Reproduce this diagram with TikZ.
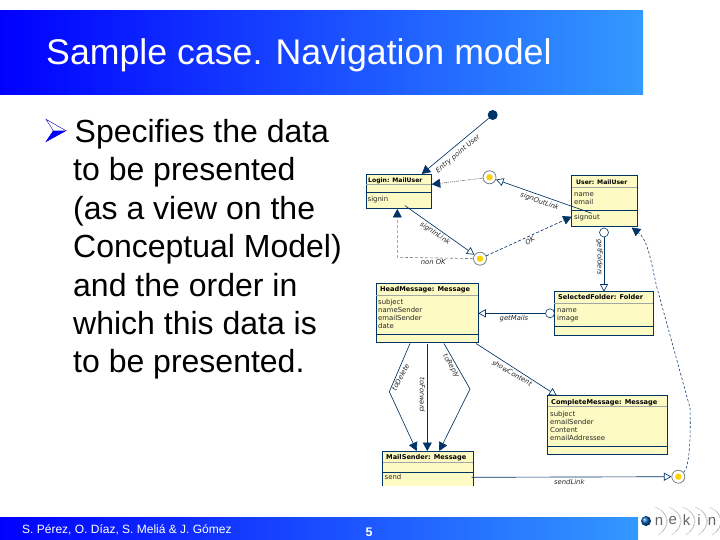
\documentclass[tikz,border=0pt]{standalone}
\usepackage{fontspec}
\setmainfont{Liberation Sans}
\newfontfamily\umlfont{DejaVu Sans}
\usetikzlibrary{arrows.meta,fit,calc}
\definecolor{navy}{RGB}{0,51,102}
\definecolor{boxfill}{RGB}{253,250,195}
\definecolor{bluea}{RGB}{0,0,255}
\definecolor{blueb}{RGB}{51,153,255}
\definecolor{grayline}{RGB}{120,130,130}
\tikzset{
  x=1pt,y=-1pt,
  boxs/.style={draw=navy,line width=0.9pt,fill=boxfill,inner sep=0pt,outer sep=0pt},
  sepa/.style={draw=grayline!70,line width=0.5pt},
  sepb/.style={draw=navy,line width=0.9pt},
  boxtitle/.style={font=\umlfont\bfseries\fontsize{6.6}{7}\selectfont,anchor=base west,inner sep=0pt,text=black},
  boxtitlesm/.style={font=\umlfont\bfseries\fontsize{6.1}{7}\selectfont,anchor=base west,inner sep=0pt,text=black},
  attr/.style={font=\umlfont\fontsize{6.9}{7}\selectfont,anchor=base west,inner sep=0pt,text=black!85},
  lab/.style={font=\umlfont\itshape\fontsize{6.8}{7}\selectfont,inner sep=0pt,text=black!85},
  conn/.style={draw=navy,line width=0.65pt},
  filltip/.style={-{Triangle[width=9pt,length=8.5pt,fill=navy,color=navy]}},
  opentip/.style={-{Triangle[open,width=8pt,length=7.5pt,fill=white]}},
  dash1/.style={dash pattern=on 3pt off 2pt},
  dashg/.style={draw=grayline,line width=0.6pt,dash pattern=on 3pt off 2pt},
  dashdot/.style={draw=grayline,line width=0.6pt,dash pattern=on 3pt off 1pt on 1pt off 1pt},
  ringc/.style={circle,draw=navy,line width=0.6pt,fill=white,minimum size=9pt,inner sep=0pt},
  deci/.style={circle,draw=grayline,line width=0.8pt,fill=white,minimum size=13pt,inner sep=0pt,path picture={\fill[yellow!70!orange] (path picture bounding box.center) circle (3.2pt);}},
  slidetext/.style={font=\fontsize{32}{34}\selectfont,anchor=base west,inner sep=0pt,text=black},
  lg/.style={font=\fontsize{15}{15}\selectfont,text=black!60,inner sep=0pt,anchor=center},
  wave/.style={draw=gray!55,line width=0.4pt}
}
\newcommand{\umlbox}[7]{%
  \coordinate (#1-nw) at (#2,#3);
  \coordinate (#1-se) at (#4,#5);
  \node[boxs,fit=(#1-nw)(#1-se)] (#1) {};
  \draw[sepa] (#2,#6) -- (#4,#6);
  \draw[sepb] (#2,#7) -- (#4,#7);
}
\begin{document}
\begin{tikzpicture}
\useasboundingbox (0,0) rectangle (720,540);
\fill[white] (0,0) rectangle (720,540);
% bars
\shade[left color=bluea,right color=blueb] (0,11) rectangle (643,95);
\shade[left color=bluea,right color=blueb] (0,517) rectangle (638,540);
\node[font=\fontsize{35.7}{37}\selectfont,text=white,anchor=base west,inner sep=0pt] (title) at (46,65) {Sample case. Navigation model};
% bullet
\fill[white] (46,119.3) -- (66,130.7) -- (53.3,130.7) -- cycle;
\draw[bluea!70!black,line width=0.4pt] (46,119.3) -- (66,130.7) -- (46,141.7) -- (53.3,130.7) -- cycle;
\fill[bluea] (66,130.7) -- (46,141.7) -- (53.3,130.7) -- cycle;
% body text
\node[slidetext] (t1) at (74.5,142.5) {Specifies the data};
\node[slidetext] (t2) at (73,180.9) {to be presented};
\node[slidetext] (t3) at (73,219.3) {(as a view on the};
\node[slidetext] (t4) at (73,257.7) {Conceptual Model)};
\node[slidetext] (t5) at (73,296.1) {and the order in};
\node[slidetext] (t6) at (73,334.5) {which this data is};
\node[slidetext] (t7) at (73,372.9) {to be presented.};
% footer
\node[font=\fontsize{12}{14}\selectfont,text=white,anchor=base west,inner sep=0pt] (authors) at (22,533.5) {S. Pérez, O. Díaz, S. Meliá \& J. Gómez};
\node[font=\bfseries\fontsize{12.5}{14}\selectfont,text=white,anchor=base,inner sep=0pt] (pnum) at (369,536) {5};
% logo
\foreach \xx in {659,672.7,686.7,699,713}{
  \draw[wave] (\xx+3,511) .. controls (\xx+9,517) and (\xx+9,526) .. (\xx+3,532);
  \draw[wave] (\xx-4,507) .. controls (\xx+12,514) and (\xx+12,526) .. (\xx-1,535);
}
\shade[ball color=blue!50!cyan!70!black] (646,521) circle (5pt);
\node[lg] (l1) at (659,521) {n};
\node[lg] (l2) at (672.7,521) {e};
\node[lg] (l3) at (686.7,520) {k};
\node[lg] (l4) at (699,520) {i};
\node[lg] (l5) at (712,521) {n};
% boxes
\umlbox{login}{366}{174.5}{431}{208.3}{184.5}{192.7}
\umlbox{user}{571.7}{175.7}{637.3}{226.7}{187.3}{210.7}
\umlbox{head}{376}{283.7}{478.3}{342.7}{295}{334.3}
\umlbox{folder}{554.3}{291.7}{653.3}{335}{303.3}{326}
\umlbox{complete}{547.7}{395.7}{667.3}{454.3}{406.7}{446.3}
% open-bottom box
\coordinate (sender-nw) at (382.7,451.3);
\coordinate (sender-se) at (473.3,485.7);
\node[fit=(sender-nw)(sender-se),fill=boxfill,inner sep=0pt,outer sep=0pt] (sender) {};
\draw[sepb] (sender.south west) -- (sender.north west) -- (sender.north east) -- (sender.south east);
\draw[sepa] (382.7,462.7) -- (473.3,462.7);
\draw[sepb] (382.7,472.7) -- (473.3,472.7);
% box texts
\node[boxtitlesm] (tlogin) at (368,182.3) {Login: MailUser};
\node[attr] (alogin) at (367.5,201.5) {signin};
\node[boxtitlesm] (tuser) at (576,184.3) {User: MailUser};
\node[attr] (a1user) at (574,196.8) {name};
\node[attr] (a2user) at (574,204.8) {email};
\node[attr] (a3user) at (574,219.5) {signout};
\node[boxtitle] (thead) at (380,291.8) {HeadMessage: Message};
\node[attr] (h1) at (378,304.3) {subject};
\node[attr] (h2) at (378,312.3) {nameSender};
\node[attr] (h3) at (378,320.3) {emailSender};
\node[attr] (h4) at (378,328.3) {date};
\node[boxtitle] (tfolder) at (558,299.6) {SelectedFolder: Folder};
\node[attr] (f1) at (557,312.5) {name};
\node[attr] (f2) at (557,320.5) {image};
\node[boxtitle] (tcomplete) at (551,404) {CompleteMessage: Message};
\node[attr] (c1) at (550,416) {subject};
\node[attr] (c2) at (550,424) {emailSender};
\node[attr] (c3) at (550,432) {Content};
\node[attr] (c4) at (550,440.3) {emailAddressee};
\node[boxtitle] (tsender) at (386,459.5) {MailSender: Message};
\node[attr] (s1) at (384.5,479.5) {send};
% circles
\node[circle,fill=navy,minimum size=10pt,inner sep=0pt] (entry) at (492.7,115) {};
\node[deci] (d1) at (489.5,177.3) {};
\node[deci] (d2) at (480,258.7) {};
\node[deci] (d3) at (678.3,476.7) {};
\node[ringc] (ru) at (604,232.5) {};
\node[ringc] (rf) at (550,313.3) {};
% anchors for connector ends
\coordinate (loginTop) at (421.7,174);
\coordinate (loginE) at (431.7,184.3);
\coordinate (loginS) at (397.3,209);
\coordinate (signoutP) at (591.7,213.3);
\coordinate (signinP) at (405,205.7);
\coordinate (userW) at (571.7,216.7);
\coordinate (userS) at (631.7,227.5);
\coordinate (d2c) at (397.3,257.3);
\coordinate (hd1) at (410,343.5);
\coordinate (hd2) at (427.3,343.5);
\coordinate (hd3) at (444,343.5);
\coordinate (hd4) at (476,343.5);
\coordinate (sd1) at (416.7,451);
\coordinate (sd2) at (427.3,451);
\coordinate (sd3) at (439.3,451);
\coordinate (cmp) at (556.7,395.5);
\coordinate (sendP) at (471.7,477.3);
\coordinate (b1) at (389.3,391.7);
\coordinate (b3) at (470,389);
% connectors
\draw[conn,filltip] (entry) -- (loginTop);
\draw[dashdot,filltip] (d1) -- (loginE);
\draw[conn,opentip] (signoutP) -- (d1);
\draw[conn,opentip] (signinP) -- (d2);
\draw[dashg,filltip] (d2) -- (d2c) -- (loginS);
\draw[conn,dash1,filltip] (d2) -- (userW);
\draw[conn,opentip] (ru) -- (folder.north -| ru);
\draw[conn,opentip] (rf) -- (head.east |- rf);
\draw[conn,filltip] (hd1) -- (b1) -- (sd1);
\draw[conn,filltip] (hd2) -- (sd2);
\draw[conn,filltip] (hd3) -- (b3) -- (sd3);
\draw[conn,opentip] (hd4) -- (cmp);
\draw[conn,opentip] (sendP) -- (d3);
\draw[conn,line width=0.55pt,dash pattern=on 2.5pt off 2pt,filltip] (d3) .. controls (689,468) and (691,440) .. (690,408) -- (656.7,286.7) .. controls (651,262) and (648,240) .. (userS);
% labels
\node[lab,rotate=40] (l-entry) at (458,154) {Entry point User};
\node[lab,rotate=-20] (l-so) at (539.5,201.5) {signOutLink};
\node[lab,rotate=-34] (l-si) at (435,233.5) {signInLink};
\node[lab] (l-no) at (433.3,261.7) {non OK};
\node[lab,rotate=33] (l-ok) at (530,241) {OK};
\node[lab,rotate=-90] (l-gf) at (599.5,257.5) {getFolders};
\node[lab] (l-gm) at (514,318.3) {getMails};
\node[lab,rotate=62] (l-del) at (400.5,377) {toDelete};
\node[lab,rotate=-90] (l-fw) at (422.5,395) {toForward};
\node[lab,rotate=-60] (l-rp) at (451,366) {toReply};
\node[lab,rotate=-30] (l-sc) at (512,373) {showContent};
\node[lab] (l-sl) at (569.3,482) {sendLink};
\end{tikzpicture}
\end{document}
